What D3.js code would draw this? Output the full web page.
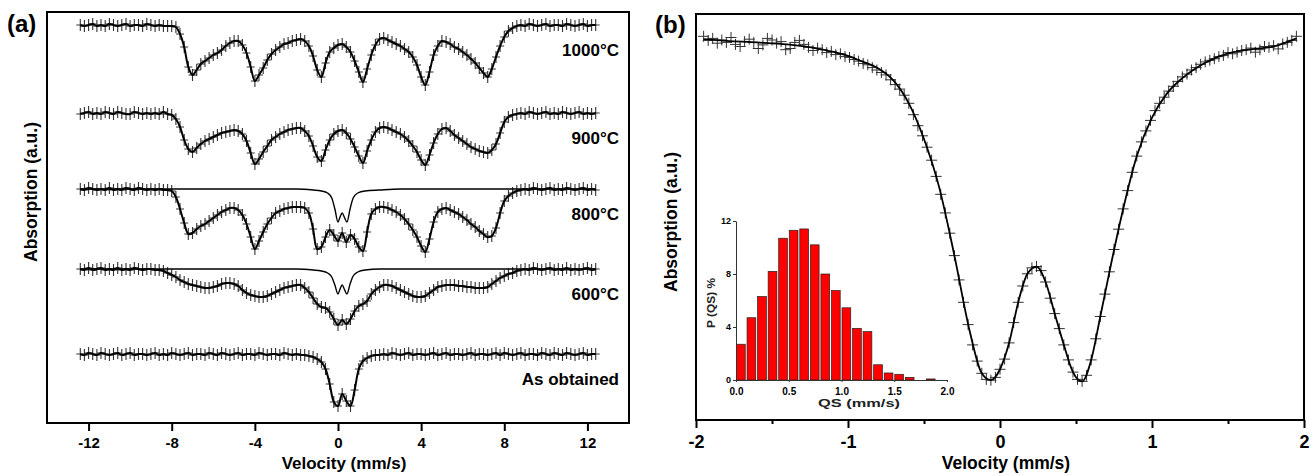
<!DOCTYPE html>
<html><head><meta charset="utf-8">
<script src="https://cdn.jsdelivr.net/npm/d3@7/dist/d3.min.js"></script>
<style>
body{margin:0;background:#fff}
text{font-family:"Liberation Sans",Arial,sans-serif;font-weight:bold;fill:#000}
</style>
</head><body><svg id="c" width="1314" height="476"></svg>
<script>
// ---------- Panel (a): velocity channels (mm/s) ----------
const velA = [-12.4,-12.2,
-12.0,-11.8,-11.6,-11.4,-11.2, -11.0,-10.8,-10.6,-10.4,-10.2, -10.0,-9.8,-9.6,-9.4,-9.2, -9.0,-8.8,-8.6,-8.4,-8.2,
-8.0,-7.8,-7.6,-7.4,-7.2, -7.0,-6.8,-6.6,-6.4,-6.2, -6.0,-5.8,-5.6,-5.4,-5.2, -5.0,-4.8,-4.6,-4.4,-4.2,
-4.0,-3.8,-3.6,-3.4,-3.2, -3.0,-2.8,-2.6,-2.4,-2.2, -2.0,-1.8,-1.6,-1.4,-1.2, -1.0,-0.8,-0.6,-0.4,-0.2,
0.0,0.2,0.4,0.6,0.8, 1.0,1.2,1.4,1.6,1.8, 2.0,2.2,2.4,2.6,2.8, 3.0,3.2,3.4,3.6,3.8,
4.0,4.2,4.4,4.6,4.8, 5.0,5.2,5.4,5.6,5.8, 6.0,6.2,6.4,6.6,6.8, 7.0,7.2,7.4,7.6,7.8,
8.0,8.2,8.4,8.6,8.8, 9.0,9.2,9.4,9.6,9.8, 10.0,10.2,10.4,10.6,10.8, 11.0,11.2,11.4,11.6,11.8,
12.0,12.2,12.4];

// absorption depth below each spectrum's baseline (a.u.)
const depth1000 = [0,.1,
0,-.1,.1,0,.1, -.1,0,.1,0,-.1, .1,0,0,.1,-.1, 0,.1,0,.1,.1,
.1,.2,.9,2.2,4.2, 5.0,4.5,3.9,3.6,3.3, 3.0,2.8,2.5,2.1,1.8, 1.6,1.6,2.0,2.8,4.2,
5.6,5.0,4.3,3.5,2.9, 2.5,2.2,1.9,1.8,1.6, 1.5,1.4,1.6,2.1,3.1, 4.5,5.2,3.8,2.7,2.3,
2.0,1.9,2.2,2.7,3.6, 4.7,5.7,4.4,3.0,2.0, 1.4,1.3,1.5,1.7,1.9, 2.1,2.4,2.7,3.2,4.0,
5.2,6.0,4.7,3.0,2.1, 1.6,1.7,1.9,2.2,2.4, 2.7,3.0,3.4,3.8,4.3, 4.8,5.2,4.4,3.2,2.1,
1.2,.6,.3,.1,0, .1,-.1,0,.1,0, -.1,.1,0,0,.1, -.1,0,.1,0,-.1,
.1,0,0];
const depth900 = [.1,0,
-.1,.1,0,.1,-.1, 0,.1,-.1,0,.1, .1,-.1,0,.1,0, .1,0,.1,-.1,.1,
.2,.6,1.4,2.7,3.6, 3.9,3.5,3.1,2.8,2.6, 2.4,2.2,2.0,1.9,1.8, 1.7,1.8,2.1,2.8,4.0,
5.1,4.6,3.9,3.3,2.7, 2.4,2.1,1.9,1.7,1.6, 1.5,1.5,1.8,2.3,3.3, 4.4,4.8,3.7,2.7,2.1,
1.8,1.7,2.0,2.6,3.4, 4.3,5.0,3.8,2.7,1.9, 1.5,1.4,1.5,1.7,1.9, 2.1,2.4,2.8,3.3,3.9,
4.7,5.2,4.2,3.0,2.1, 1.6,1.5,1.8,2.2,2.5, 2.8,3.1,3.4,3.6,3.8, 3.9,4.0,3.7,3.1,2.0,
.9,.4,.2,.1,0, .1,-.1,0,.1,0, -.1,.1,0,.1,-.1, 0,.1,0,-.1,.1,
0,.1,0];
const depth800 = [0,.1,
-.1,0,.1,0,.1, -.1,.1,0,.1,-.1, 0,.1,-.1,0,.1, 0,.1,0,.1,.1,
.2,.8,2.0,3.4,4.5, 4.4,4.0,3.7,3.5,3.2, 2.9,2.6,2.3,2.1,1.9, 1.9,2.1,2.6,3.5,4.8,
6.0,5.2,4.3,3.5,2.9, 2.4,2.2,2.0,1.9,1.8, 1.8,1.8,1.9,2.4,4.0, 6.0,5.8,4.8,4.1,4.6,
5.2,4.4,5.3,4.6,5.0, 5.8,6.2,4.3,2.5,2.0, 1.8,1.8,1.9,2.1,2.3, 2.6,3.0,3.5,4.1,4.8,
5.7,6.3,5.0,3.3,2.3, 2.0,1.9,2.1,2.3,2.5, 2.8,3.1,3.5,3.8,4.2, 4.5,4.8,4.7,3.9,2.4,
1.2,.7,.4,.2,.1, 0,.1,-.1,0,.1, 0,-.1,.1,0,.1, -.1,0,.1,0,-.1,
.1,0,.1];
const depth600 = [0,.1,
-.1,.1,0,-.1,.1, 0,.1,-.1,.1,0, .1,-.1,0,.1,0, 0,.1,.1,.2,.4,
.6,.8,1.1,1.3,1.5, 1.6,1.7,1.8,1.9,1.9, 1.8,1.7,1.5,1.4,1.4, 1.5,1.7,2.1,2.4,2.6,
2.7,2.8,2.8,2.7,2.5, 2.3,2.1,1.9,1.8,1.7, 1.6,1.6,1.9,2.3,2.9, 3.5,3.8,3.9,4.3,5.0,
5.6,5.1,5.5,5.0,4.2, 3.7,3.5,3.2,2.5,2.1, 1.8,1.6,1.6,1.7,1.9, 2.1,2.3,2.5,2.7,2.8,
2.8,2.7,2.4,2.1,1.8, 1.7,1.6,1.6,1.6,1.7, 1.7,1.8,1.8,1.9,1.9, 1.9,1.8,1.5,1.2,.9,
.7,.5,.4,.2,.1, 0,.1,-.1,0,.1, 0,-.1,.1,0,.1, -.1,.1,0,.1,0,
-.1,.1,0];
const depthAsObtained = [0,.1,
-.1,0,.1,-.1,0, .1,0,-.1,.1,0, -.1,.1,0,0,.1, 0,-.1,.1,0,.1,
-.1,0,.1,0,-.1, .1,0,0,.1,-.1, 0,.1,-.1,0,.1, 0,-.1,.1,0,0,
.1,-.1,0,.1,0, 0,.1,-.1,0,.1, 0,.1,.1,.2,.3, .5,.8,1.5,3.0,4.8,
5.2,4.0,4.7,5.2,3.6, 1.5,.7,.4,.2,.1, .1,0,.1,-.1,0, .1,0,-.1,.1,0,
0,.1,0,-.1,.1, 0,-.1,.1,0,0, .1,0,-.1,.1,0, 0,.1,0,-.1,.1,
-.1,0,.1,0,-.1, .1,0,0,.1,-.1, 0,.1,-.1,0,.1, -.1,0,.1,0,-.1,
.1,0,0];

// spectrum baselines (a.u.) and labels
const baselinesA = [39.8, 31.0, 23.4, 15.4, 6.9];
const labelsA = ["1000°C", "900°C", "800°C", "600°C", "As obtained"];

// paramagnetic doublet sub-components (800°C and 600°C)
const subVel = [-12.4,-2.0,-1.2,-0.8,-0.5,-0.3,-0.15,0.0,0.1,0.2,0.3,0.43,0.58,0.73,0.95,1.3,2.0,3.0,12.4];
const sub800 = [0,0,.1,.2,.4,.9,2.0,3.3,2.8,2.4,2.8,3.3,2.0,.9,.4,.2,.1,0,0];
const sub600 = [0,0,.1,.2,.4,.8,1.6,2.5,2.0,1.6,2.0,2.5,1.5,.7,.3,.1,0,0,0];

const ticksA = [-12,-8,-4,0,4,8,12];

// ---------- Panel (b) ----------
const velB = [
-1.95,-1.92,-1.89,-1.86,-1.83,-1.80,-1.77,-1.74,-1.71,-1.68,
-1.65,-1.62,-1.59,-1.56,-1.53,-1.50,-1.47,-1.44,-1.41,-1.38,
-1.35,-1.32,-1.29,-1.26,-1.23,-1.20,-1.17,-1.14,-1.11,-1.08,
-1.05,-1.02,-0.99,-0.96,-0.93,-0.90,-0.87,-0.84,-0.81,-0.78,
-0.75,-0.72,-0.69,-0.66,-0.63,-0.60,-0.57,-0.54,-0.51,-0.48,
-0.45,-0.42,-0.39,-0.36,-0.33,-0.30,-0.27,-0.24,-0.21,-0.18,
-0.15,-0.12,-0.09,-0.06,-0.03,0.00,0.03,0.06,0.09,0.12,
0.15,0.18,0.21,0.24,0.27,0.30,0.33,0.36,0.39,0.42,
0.45,0.48,0.51,0.54,0.57,0.60,0.63,0.66,0.69,0.72,
0.75,0.78,0.81,0.84,0.87,0.90,0.93,0.96,0.99,1.02,
1.05,1.08,1.11,1.14,1.17,1.20,1.23,1.26,1.29,1.32,
1.35,1.38,1.41,1.44,1.47,1.50,1.53,1.56,1.59,1.62,
1.65,1.68,1.71,1.74,1.77,1.80,1.83,1.86,1.89,1.92,
1.95];
const absB = [
.945,.935,.940,.928,.936,.930,.942,.925,.920,.932,
.938,.930,.915,.924,.940,.936,.928,.932,.912,.915,
.930,.935,.925,.918,.910,.916,.912,.905,.908,.900,
.902,.895,.893,.888,.884,.878,.875,.868,.862,.856,
.850,.838,.826,.815,.800,.780,.752,.725,.700,.672,
.640,.600,.556,.510,.460,.405,.345,.290,.235,.185,
.145,.115,.100,.098,.105,.125,.150,.190,.240,.290,
.330,.360,.375,.378,.368,.340,.300,.262,.225,.185,
.148,.118,.100,.095,.110,.148,.200,.255,.310,.365,
.420,.470,.520,.565,.610,.650,.685,.712,.738,.762,
.780,.795,.810,.822,.834,.845,.852,.862,.868,.876,
.882,.886,.890,.895,.898,.905,.902,.906,.910,.912,
.916,.906,.912,.920,.918,.922,.914,.926,.930,.935,
.945];
const fitVelB = [-1.95,-1.8,-1.6,-1.4,-1.2,-1.0,-0.9,-0.8,-0.7,-0.6,-0.5,-0.4,-0.3,-0.2,-0.12,-0.06,0.0,0.06,0.12,0.18,0.24,0.30,0.36,0.42,0.48,0.54,0.60,0.66,0.72,0.80,0.90,1.0,1.1,1.2,1.35,1.5,1.65,1.8,1.95];
const fitAbsB = [.938,.934,.930,.925,.915,.897,.882,.866,.836,.780,.692,.573,.405,.220,.115,.098,.125,.190,.290,.360,.378,.340,.262,.185,.118,.095,.148,.255,.365,.503,.650,.745,.805,.842,.880,.903,.913,.920,.940];
const ticksBMajor = [-2,-1,0,1,2];
const ticksBMinor = [-1.5,-0.5,0.5,1.5];

// ---------- Inset: QS distribution ----------
const qsBins = [0.0,0.1,0.2,0.3,0.4,0.5,0.6,0.7,0.8,0.9,1.0,1.1,1.2,1.3,1.4,1.5,1.6,1.7,1.8,1.9];
const qsProb = [2.7,4.7,6.3,8.2,10.7,11.3,11.4,10.2,8.0,6.75,5.45,3.9,3.65,1.15,0.53,0.43,0.2,0.0,0.08,0.0];
const qsTicksX = [0,0.5,1.0,1.5,2.0];
const qsTicksY = [0,4,8,12];

// =====================================================
const svg = d3.select('#c');

function crossPath(pts, hx, hy){
  return pts.map(([x,y]) => `M${(x-hx).toFixed(1)},${y.toFixed(1)}h${2*hx}M${x.toFixed(1)},${(y-hy).toFixed(1)}v${2*hy}`).join('');
}

// ---------------- Panel (a) ----------------
const A = {l:47, r:629, t:12, b:423};
const xA = d3.scaleLinear().domain([-14,14]).range([A.l, A.r]);
const yA = d3.scaleLinear().domain([0,41.1]).range([A.b, A.t]);
const lineA = d3.line().x(d=>xA(d[0])).y(d=>yA(d[1])).curve(d3.curveCatmullRom.alpha(0.5));

const spectraA = [depth1000, depth900, depth800, depth600, depthAsObtained];
const gA = svg.append('g');
spectraA.forEach((dep, si) => {
  const base = baselinesA[si];
  const pts = velA.map((v,i)=>[v, base - dep[i]]);
  gA.append('path').attr('d', crossPath(pts.map(p=>[xA(p[0]), yA(p[1])]), 4, 6))
    .attr('stroke','#333').attr('stroke-width',1.1).attr('fill','none');
  gA.append('path').attr('d', lineA(pts)).attr('stroke','#000').attr('stroke-width',2).attr('fill','none');
  gA.append('text').attr('x', 619).attr('y', yA(base)+31).attr('text-anchor','end')
    .style('font-size','17px').text(labelsA[si]);
});
[[sub800, 2],[sub600, 3]].forEach(([dep, si]) => {
  const base = baselinesA[si];
  const pts = subVel.map((v,i)=>[v, base - dep[i]]);
  gA.append('path').attr('d', d3.line().x(d=>xA(d[0])).y(d=>yA(d[1])).curve(d3.curveMonotoneX)(pts))
    .attr('stroke','#000').attr('stroke-width',1.4).attr('fill','none');
});

svg.append('rect').attr('x',A.l).attr('y',A.t).attr('width',A.r-A.l).attr('height',A.b-A.t)
  .attr('fill','none').attr('stroke','#000').attr('stroke-width',2);
const axA = svg.append('g').attr('transform',`translate(0,${A.b})`)
  .call(d3.axisBottom(xA).tickValues(ticksA).tickSize(8).tickPadding(6).tickFormat(d=>String(d)));
axA.select('.domain').remove();
axA.selectAll('line').attr('stroke-width',2);
axA.selectAll('text').style('font-size','15px').style('font-family','"Liberation Sans",Arial,sans-serif').style('font-weight','bold');

svg.append('text').attr('x',344).attr('y',469).attr('text-anchor','middle').style('font-size','17px').text('Velocity (mm/s)');
svg.append('text').attr('transform','translate(37,192) rotate(-90)').attr('text-anchor','middle').style('font-size','17.5px').text('Absorption (a.u.)');
svg.append('text').attr('x',7).attr('y',32).style('font-size','24px').text('(a)');

// ---------------- Panel (b) ----------------
const B = {l:696, r:1304, t:14, b:420};
const xB = d3.scaleLinear().domain([-2,2]).range([B.l, B.r]);
const yB = d3.scaleLinear().domain([0,1]).range([B.b, B.t]);

const ptsB = velB.map((v,i)=>[xB(v), yB(absB[i])]);
svg.append('path').attr('d', crossPath(ptsB, 5.5, 5.5)).attr('stroke','#333').attr('stroke-width',1).attr('fill','none');
svg.append('path').attr('d', d3.line().x((d,i)=>xB(fitVelB[i])).y(d=>yB(d)).curve(d3.curveMonotoneX)(fitAbsB))
  .attr('stroke','#000').attr('stroke-width',1.8).attr('fill','none');

svg.append('rect').attr('x',B.l).attr('y',B.t).attr('width',B.r-B.l).attr('height',B.b-B.t)
  .attr('fill','none').attr('stroke','#000').attr('stroke-width',2);
const axB = svg.append('g').attr('transform',`translate(0,${B.b})`)
  .call(d3.axisBottom(xB).tickValues(ticksBMajor).tickSize(8).tickPadding(7).tickFormat(d=>String(d)));
axB.select('.domain').remove();
axB.selectAll('line').attr('stroke-width',2);
axB.selectAll('text').style('font-size','18px').style('font-family','"Liberation Sans",Arial,sans-serif').style('font-weight','bold');
const axBm = svg.append('g').attr('transform',`translate(0,${B.b})`)
  .call(d3.axisBottom(xB).tickValues(ticksBMinor).tickSize(4).tickFormat(''));
axBm.select('.domain').remove();
axBm.selectAll('line').attr('stroke-width',2);

svg.append('text').attr('x',1006).attr('y',469).attr('text-anchor','middle').style('font-size','17.5px').text('Velocity (mm/s)');
svg.append('text').attr('transform','translate(677,222) rotate(-90)').attr('text-anchor','middle').style('font-size','17.5px').text('Absorption (a.u.)');
svg.append('text').attr('x',655).attr('y',33).style('font-size','24px').text('(b)');

// ---------------- Inset ----------------
const xI = d3.scaleLinear().domain([0,2]).range([736, 947]);
const yI = d3.scaleLinear().domain([0,12]).range([380, 221]);
svg.append('g').selectAll('rect').data(qsBins).join('rect')
  .attr('x', d=>xI(d)+0.5)
  .attr('width', d=>xI(d+0.1)-xI(d)-1.8)
  .attr('y', (d,i)=>yI(qsProb[i]))
  .attr('height', (d,i)=>yI(0)-yI(qsProb[i]))
  .attr('fill','#ff0000').attr('stroke','#222').attr('stroke-width',0.7);
const axIx = svg.append('g').attr('transform','translate(0,380)')
  .call(d3.axisBottom(xI).tickValues(qsTicksX).tickSize(2).tickPadding(6).tickFormat(d3.format('.1f')));
axIx.selectAll('text').style('font-size','10px').style('font-family','"Liberation Sans",Arial,sans-serif').style('font-weight','bold').attr('fill','#222');
axIx.selectAll('line,path').attr('stroke','#333');
const axIy = svg.append('g').attr('transform','translate(736,0)')
  .call(d3.axisLeft(yI).tickValues(qsTicksY).tickSize(3).tickPadding(2).tickSizeOuter(0));
axIy.selectAll('text').style('font-size','9px').style('font-family','"Liberation Sans",Arial,sans-serif').style('font-weight','bold').attr('fill','#222');
axIy.selectAll('line,path').attr('stroke','#333');
svg.append('text').attr('x',859).attr('y',407).attr('text-anchor','middle').attr('textLength',82).attr('lengthAdjust','spacingAndGlyphs')
  .style('font-size','10.5px').style('fill','#222').text('QS (mm/s)');
svg.append('text').attr('transform','translate(715,303) rotate(-90)').attr('text-anchor','middle').attr('textLength',50).attr('lengthAdjust','spacingAndGlyphs')
  .style('font-size','10px').style('fill','#222').text('P (QS) %');
</script></body></html>
